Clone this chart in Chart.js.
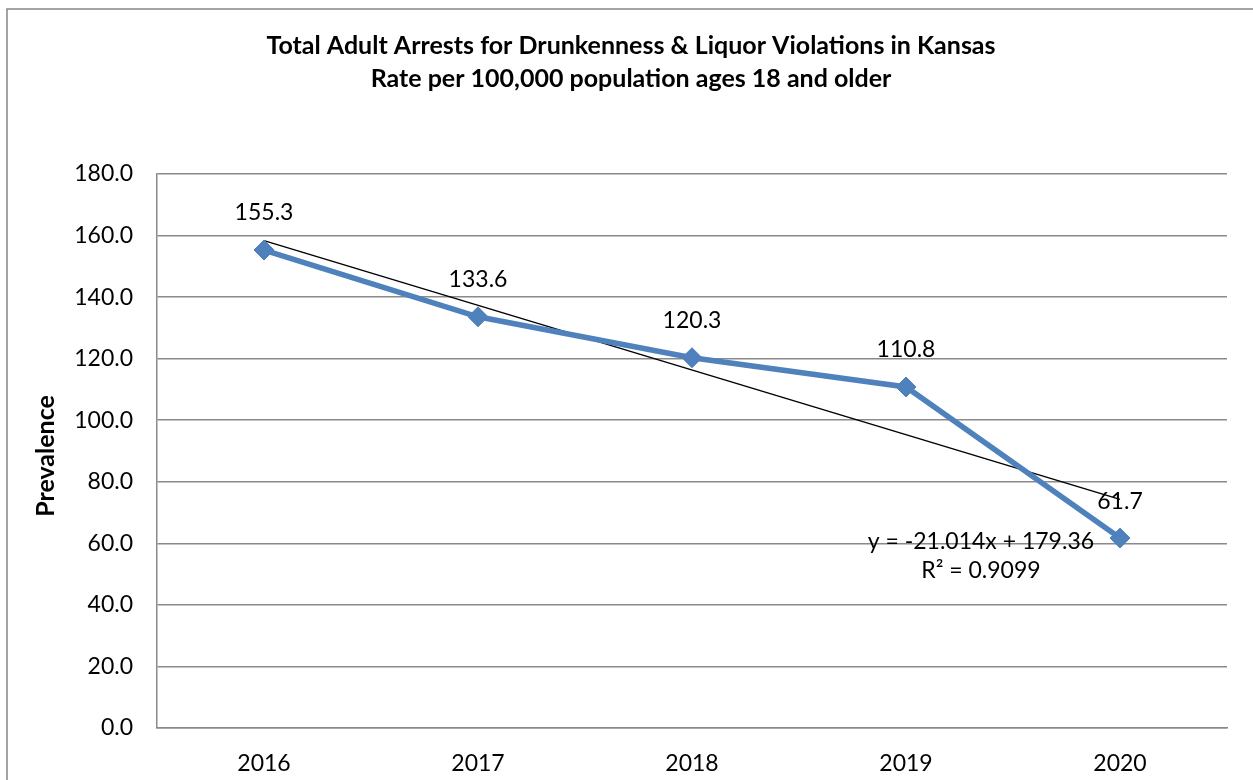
<!DOCTYPE html>
<html>
<head>
<meta charset="utf-8">
<script src="https://cdn.jsdelivr.net/npm/chart.js@4.4.1/dist/chart.umd.min.js"></script>
<style>
  html, body { margin: 0; padding: 0; background: #ffffff; }
  #wrap { width: 1253px; height: 780px; position: relative; }
</style>
</head>
<body>
<div id="wrap"><canvas id="c" width="1253" height="780"></canvas></div>
<script>
const categories = ['2016', '2017', '2018', '2019', '2020'];
const rateValues = [155.3, 133.6, 120.3, 110.8, 61.7];
// Linear trendline endpoints (from y = -21.014x + 179.36 shown on chart)
const trendValues = [158.35, null, null, null, 74.29];
const yTicks = [0, 20, 40, 60, 80, 100, 120, 140, 160, 180];
const titleLines = ['Total Adult Arrests for Drunkenness & Liquor Violations in Kansas',
                    'Rate per 100,000 population ages 18 and older'];
const yAxisTitle = 'Prevalence';
const trendLabel = ['y = -21.014x + 179.36', 'R\u00B2 = 0.9099'];

const FONT = 'Lato, "Open Sans", sans-serif';
const BLUE = '#4F81BD';
const GRID = '#8a8a8a';

const decorPlugin = {
  id: 'decor',
  beforeDraw(chart) {
    const ctx = chart.ctx;
    ctx.save();
    ctx.fillStyle = '#ffffff';
    ctx.fillRect(0, 0, chart.width, chart.height);
    ctx.strokeStyle = '#868686';
    ctx.lineWidth = 1.5;
    ctx.strokeRect(7, 9, 1300, 820);
    ctx.restore();
  },
  afterDraw(chart) {
    const ctx = chart.ctx;
    const area = chart.chartArea;
    ctx.save();
    // Title
    ctx.fillStyle = '#000000';
    ctx.textAlign = 'center';
    ctx.textBaseline = 'middle';
    ctx.font = 'bold 25px ' + FONT;
    ctx.fillText(titleLines[0], 631, 46);
    ctx.fillText(titleLines[1], 631, 79);
    // Y axis title
    ctx.save();
    ctx.translate(46, (area.top + area.bottom) / 2 + 5);
    ctx.rotate(-Math.PI / 2);
    ctx.font = 'bold 25px ' + FONT;
    ctx.fillText(yAxisTitle, 0, 0);
    ctx.restore();
    // Data labels
    ctx.font = '23px ' + FONT;
    const meta = chart.getDatasetMeta(0);
    meta.data.forEach((pt, i) => {
      ctx.fillText(rateValues[i].toFixed(1), pt.x, pt.y - 37);
    });
    // Trendline label
    const xs = chart.scales.x, ys = chart.scales.y;
    const lx = xs.getPixelForValue(3.35);
    ctx.fillText(trendLabel[0], lx, ys.getPixelForValue(60.5));
    ctx.fillText(trendLabel[1], lx, ys.getPixelForValue(51));
    ctx.restore();
  }
};

new Chart(document.getElementById('c'), {
  type: 'line',
  data: {
    labels: categories,
    datasets: [
      {
        data: rateValues,
        borderColor: BLUE,
        backgroundColor: BLUE,
        borderWidth: 5.5,
        pointStyle: 'rectRot',
        pointRadius: 10,
        pointBorderWidth: 1,
        pointBorderColor: BLUE,
        pointBackgroundColor: BLUE,
        tension: 0,
        order: 1
      },
      {
        data: trendValues,
        borderColor: '#000000',
        borderWidth: 1.5,
        pointRadius: 0,
        spanGaps: true,
        tension: 0,
        order: 2
      }
    ]
  },
  options: {
    responsive: false,
    animation: false,
    events: [],
    layout: { padding: { left: 0, top: 174, right: 26, bottom: 0 } },
    plugins: {
      legend: { display: false },
      tooltip: { enabled: false },
      title: { display: false }
    },
    scales: {
      x: {
        offset: true,
        grid: { display: false, drawTicks: false },
        border: { display: true, color: GRID, width: 1.5 },
        ticks: { color: '#000', font: { family: FONT, size: 23 }, padding: 22 },
        afterFit(s) { s.height = 52; }
      },
      y: {
        min: 0, max: 180,
        afterBuildTicks(s) { s.ticks = yTicks.map(v => ({ value: v })); },
        grid: { color: GRID, lineWidth: 1.5, drawTicks: false },
        border: { display: true, color: GRID, width: 1.5 },
        ticks: {
          color: '#000', font: { family: FONT, size: 23 }, padding: 24,
          callback: v => Number(v).toFixed(1)
        },
        afterFit(s) { s.width = 157; }
      }
    }
  },
  plugins: [decorPlugin]
});
</script>
</body>
</html>
